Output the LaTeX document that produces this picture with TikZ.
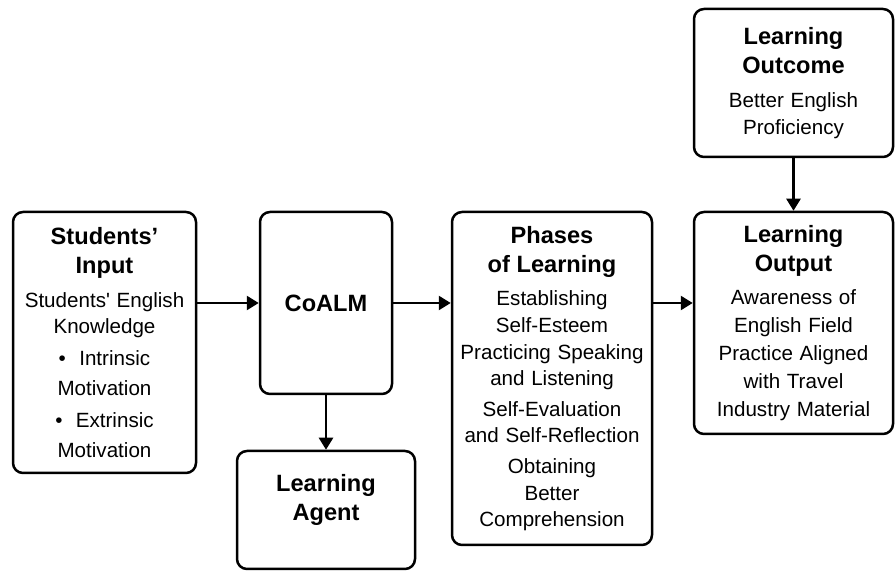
\documentclass[tikz,border=0pt]{standalone}
\usepackage{fontspec}
\setmainfont{Liberation Sans}
\usetikzlibrary{arrows.meta}

\newcommand{\hd}{\fontsize{11.8}{14.5}\selectfont\bfseries}
\newcommand{\bd}{\fontsize{10.3}{13.3}\selectfont}

\tikzset{
  box/.style={draw, line width=1.25pt, rounded corners=5pt, align=center, inner sep=0pt},
  arr/.style={line width=1.25pt, -{Triangle[length=6pt,width=7pt]}},
}

\begin{document}
\begin{tikzpicture}[x=0.5pt, y=-0.5pt]
    \useasboundingbox (0, 0) rectangle (895, 571);

    \node[box, minimum width=91.5pt, minimum height=130.5pt, text width=89pt] (input) at (104.5, 342.5)
      {{\hd Students’\\Input\par}\vspace{3.5pt}
       {\bd Students\textquotesingle{} English\\Knowledge\\[2.5pt]
        \textbullet\ \ Intrinsic\\[1.5pt]Motivation\\[3pt]
        \textbullet\ \ Extrinsic\\[1.5pt]Motivation\par}};

    \node[box, minimum width=66pt, minimum height=91pt, text width=62pt] (coalm) at (326, 303)
      {\hd CoALM};

    \node[box, minimum width=89pt, minimum height=59pt, text width=85pt] (agent) at (326, 510)
      {{\hd Learning\\Agent\\[-2pt]\null\par}};

    \node[box, minimum width=100pt, minimum height=166.5pt, text width=98pt] (phases) at (552, 378.5)
      {{\hd Phases\\of Learning\par}\vspace{3.5pt}
       {\bd Establishing\\Self-Esteem\\
        Practicing Speaking\\and Listening\\[2pt]
        Self-Evaluation\\and Self-Reflection\\[2pt]
        Obtaining\\Better\\Comprehension\par}};

    \node[box, minimum width=99.5pt, minimum height=111pt, text width=97pt] (output) at (793.5, 323)
      {{\hd Learning\\Output\par}\vspace{3.5pt}
       {\bd Awareness of\\[0.7pt]English Field\\[0.7pt]Practice Aligned\\[0.7pt]with Travel\\[0.7pt]Industry Material\par}};

    \node[box, minimum width=99.5pt, minimum height=74pt, text width=97pt] (outcome) at (793.5, 83)
      {{\hd Learning\\Outcome\par}\vspace{3.5pt}
       {\bd Better English\\Proficiency\par}};

    \draw[arr] (input.east |- coalm.west) -- (coalm.west);
    \draw[arr] (coalm.east) -- (phases.west |- coalm.east);
    \draw[arr] (phases.east |- coalm.east) -- (output.west |- coalm.east);
    \draw[arr] (coalm.south) -- (agent.north);
    \draw[arr] (outcome.south) -- (output.north);
\end{tikzpicture}
\end{document}
